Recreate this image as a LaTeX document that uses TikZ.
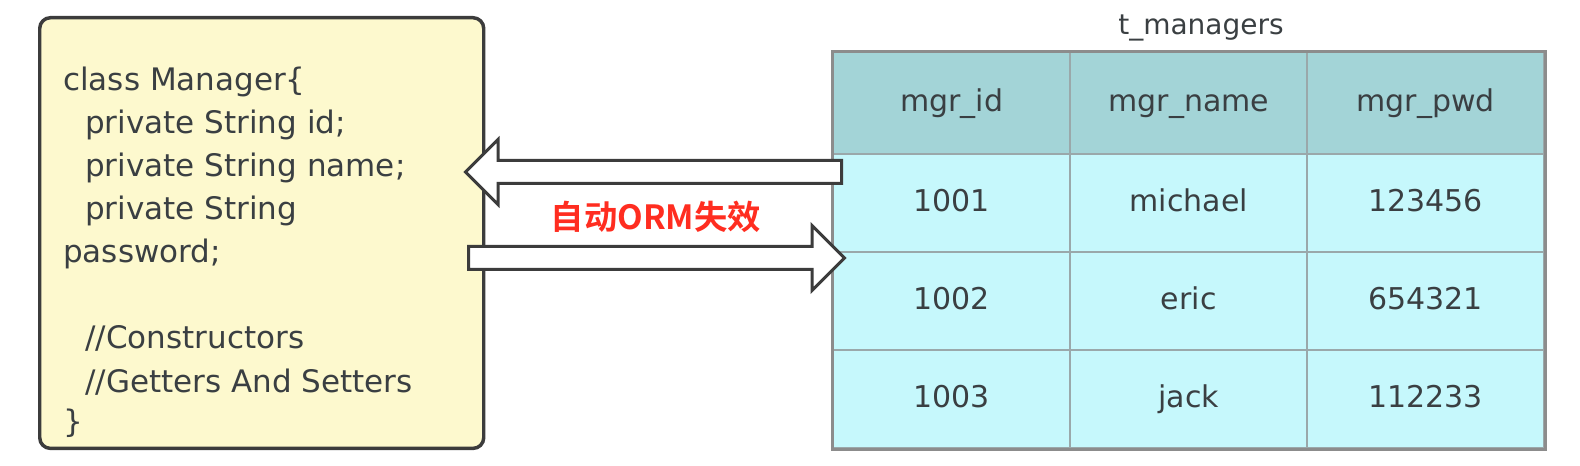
\documentclass[tikz,border=0pt]{standalone}
\usepackage{fontspec}
\setmainfont{DejaVu Sans}
\newfontfamily\cjk{Noto Sans CJK SC}[BoldFont={Noto Sans CJK SC Bold}]
\usetikzlibrary{shapes.arrows, matrix, positioning}

\definecolor{boxfill}{HTML}{FDF9CE}
\definecolor{boxline}{HTML}{3C3C3C}
\definecolor{headfill}{HTML}{A3D4D7}
\definecolor{rowfill}{HTML}{C6F8FC}
\definecolor{gridline}{HTML}{9AA8AA}
\definecolor{tblline}{HTML}{8C8C8C}
\definecolor{txtgray}{HTML}{3A3F42}
\definecolor{ormred}{HTML}{FF2D20}

\tikzset{
  codeline/.style={anchor=base west, inner sep=0pt, text=txtgray,
                   font=\fontsize{23.25}{28}\selectfont},
  cell/.style={draw=gridline, line width=1.5pt, fill=rowfill, inner sep=0pt,
               minimum width=177.75pt, minimum height=73.5pt,
               text height=17pt, text depth=5pt,
               text=txtgray, font=\fontsize{22.5}{27}\selectfont},
  blockarrow/.style={single arrow, draw=boxline, line width=2.25pt,
                     fill=white, inner sep=0pt, inner ysep=7.5pt,
                     single arrow head extend=15.75pt,
                     single arrow tip angle=90, minimum height=282pt}
}

\begin{document}
\begin{tikzpicture}[x=0.75pt, y=-0.75pt]
  \useasboundingbox (0,0) rectangle (1580,466);

  % class box
  \node[draw=boxline, line width=2.6pt, fill=boxfill, rounded corners=8pt,
        anchor=north west, minimum width=333pt, minimum height=323pt]
    (cls) at (38,16) {};
  \node[codeline] (l1) at (63,91)  {class Manager\{};
  \node[codeline] (l2) at (85,134) {private String id;};
  \node[codeline] (l3) at (85,177) {private String name;};
  \node[codeline] (l4) at (85,220) {private String};
  \node[codeline] (l5) at (63,263) {password;};
  \node[codeline] (l6) at (85,349) {//Constructors};
  \node[codeline] (l7) at (85,392) {//Getters And Setters};
  \node[codeline] (l8) at (63,432) {\}};

  % table
  \node[text=txtgray, font=\fontsize{21}{25}\selectfont, anchor=base]
    (tname) at (1201,35) {t\_managers};
  \matrix (tbl) [matrix of nodes, nodes={cell}, inner sep=0pt,
                 column sep=-1.5pt, row sep=-1.5pt, anchor=north west,
                 row 1/.style={nodes={fill=headfill, minimum height=76.5pt}}]
    at (832,51) {
    mgr\_id & mgr\_name & mgr\_pwd \\
    1001    & michael   & 123456   \\
    1002    & eric      & 654321   \\
    1003    & jack      & 112233   \\
  };
  \draw[tblline, line width=2.25pt]
    (tbl-1-1.north west) rectangle (tbl-4-3.south east);

  % mapping arrows
  \node[blockarrow, shape border rotate=180, anchor=tail]
    (toCls) at (843,172) {};
  \node[blockarrow, anchor=tail] (toTbl) at (467,258) {};
  \node[text=ormred, font=\cjk\bfseries\fontsize{25}{30}\selectfont]
    (lbl) at (656,217) {自动ORM失效};
\end{tikzpicture}
\end{document}
